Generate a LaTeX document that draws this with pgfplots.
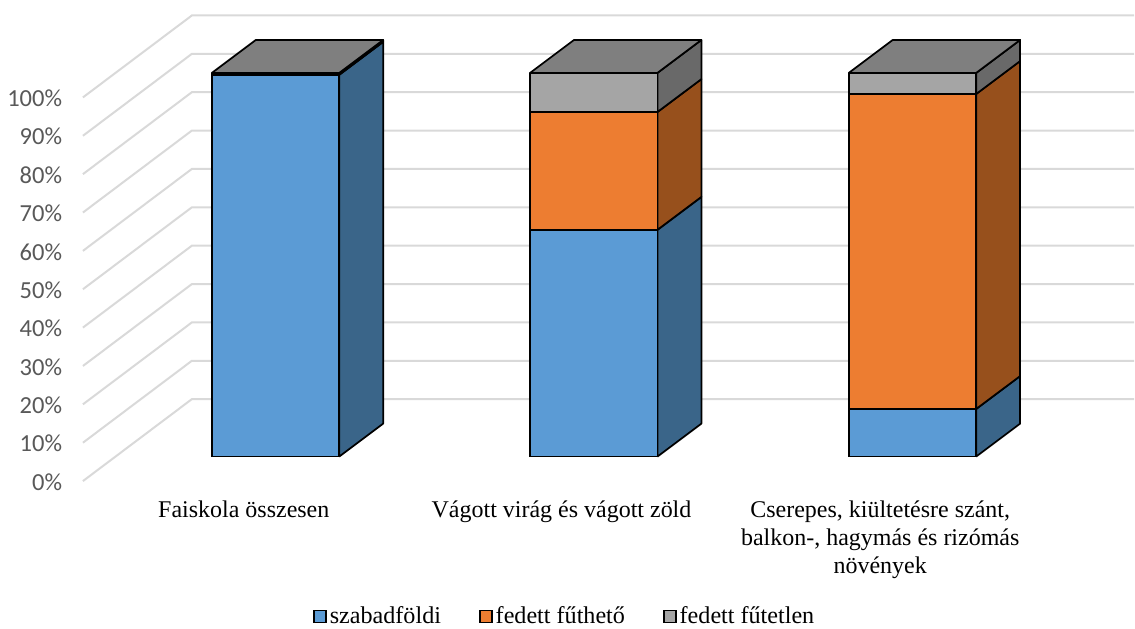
\documentclass[border=0pt]{standalone}
\usepackage{fontspec}
\setmainfont{Liberation Serif}
\newfontfamily\calib{Carlito}
\usepackage{pgfplots}
\pgfplotsset{compat=1.18}
\definecolor{cb}{HTML}{5B9BD5}\definecolor{cbs}{HTML}{3A6589}
\definecolor{co}{HTML}{ED7D31}\definecolor{cos}{HTML}{97501C}
\definecolor{cg}{HTML}{A5A5A5}\definecolor{cgs}{HTML}{696969}
\definecolor{ct}{HTML}{7F7F7F}\definecolor{cgrid}{HTML}{D9D9D9}
\definecolor{ctick}{HTML}{595959}
\pgfplotsset{box/.style={draw=black,line width=1.3pt,line join=round,forget plot}}
\newcommand\polyplot[2]{\edef\tmp{\noexpand\addplot[fill=#1,box] coordinates {#2};}\tmp}
% x0, lower value, upper value, front colour, side colour
\newcommand\seg[5]{%
  \pgfmathsetmacro\xa{#1}\pgfmathsetmacro\xb{#1+127.5}\pgfmathsetmacro\xc{#1+171.5}%
  \pgfmathsetmacro\ya{#2+6.38}\pgfmathsetmacro\yb{#3+6.38}%
  \pgfmathsetmacro\yc{#2+6.38+8.59}\pgfmathsetmacro\yd{#3+6.38+8.59}%
  \polyplot{#5}{(\xb,\ya)(\xc,\yc)(\xc,\yd)(\xb,\yb)(\xb,\ya)}%
  \polyplot{#4}{(\xa,\ya)(\xb,\ya)(\xb,\yb)(\xa,\yb)(\xa,\ya)}%
}
\newcommand\topf[1]{%
  \pgfmathsetmacro\xa{#1}\pgfmathsetmacro\xb{#1+127.5}\pgfmathsetmacro\xc{#1+171.5}\pgfmathsetmacro\xd{#1+44}%
  \polyplot{ct}{(\xa,106.38)(\xb,106.38)(\xc,114.97)(\xd,114.97)(\xa,106.38)}%
}
\newcommand\gridl[1]{%
  \pgfmathsetmacro\ya{#1}\pgfmathsetmacro\yb{#1+21.35}%
  \edef\tmp{\noexpand\addplot[cgrid,line width=1.5pt,forget plot] coordinates {(83,\ya)(192,\yb)(1135,\yb)};}\tmp
}
\begin{document}
\begin{tikzpicture}
\begin{axis}[
  scale only axis, width=851.25pt, height=469.5pt,
  xmin=0, xmax=1135, ymin=-37.63, ymax=125.39,
  clip=false,
  axis line style={draw=none},
  tick style={draw=none},
  ytick={0,10,20,30,40,50,60,70,80,90,100},
  yticklabels={0\%,10\%,20\%,30\%,40\%,50\%,60\%,70\%,80\%,90\%,100\%},
  yticklabel style={font=\calib\fontsize{18.4}{20}\selectfont,text=ctick,anchor=east,xshift=46.8pt,yshift=-0.7pt,inner sep=0pt},
  xtick={244,562,881},
  xticklabels={Faiskola összesen,Vágott virág és vágott zöld,{Cserepes, kiültetésre szánt,\\balkon-, hagymás és rizómás\\növények}},
  xticklabel style={font=\fontsize{18}{21}\selectfont,align=center,anchor=north,yshift=93.8pt,inner sep=0pt},
  legend columns=3,
  legend style={draw=none,fill=none,at={(axis cs:565.5,-35.3)},anchor=center,
    font=\fontsize{18.1}{20}\selectfont,inner sep=0pt,
    /tikz/every even column/.append style={column sep=26.5pt}},
]
\gridl{0}\gridl{10}\gridl{20}\gridl{30}\gridl{40}\gridl{50}\gridl{60}\gridl{70}\gridl{80}\gridl{90}\gridl{100}
% Faiskola összesen
\seg{212}{0}{99.5}{cb}{cbs}
\seg{212}{99.5}{100}{cg}{cgs}
\topf{212}
% Vágott virág és vágott zöld
\seg{530.5}{0}{59.1}{cb}{cbs}
\seg{530.5}{59.1}{89.8}{co}{cos}
\seg{530.5}{89.8}{100}{cg}{cgs}
\topf{530.5}
% Cserepes
\seg{849.5}{0}{12.4}{cb}{cbs}
\seg{849.5}{12.4}{94.5}{co}{cos}
\seg{849.5}{94.5}{100}{cg}{cgs}
\topf{849.5}
\addlegendimage{legend image code/.code={\draw[fill=cb,draw=black,line width=1.3pt] (-0.5pt,-4.5pt) rectangle (8.8pt,4.5pt);}}
\addlegendentry{szabadföldi}
\addlegendimage{legend image code/.code={\draw[fill=co,draw=black,line width=1.3pt] (-0.5pt,-4.5pt) rectangle (8.8pt,4.5pt);}}
\addlegendentry{fedett fűthető}
\addlegendimage{legend image code/.code={\draw[fill=cg,draw=black,line width=1.3pt] (-0.5pt,-4.5pt) rectangle (8.8pt,4.5pt);}}
\addlegendentry{fedett fűtetlen}
\end{axis}
\end{tikzpicture}
\end{document}
